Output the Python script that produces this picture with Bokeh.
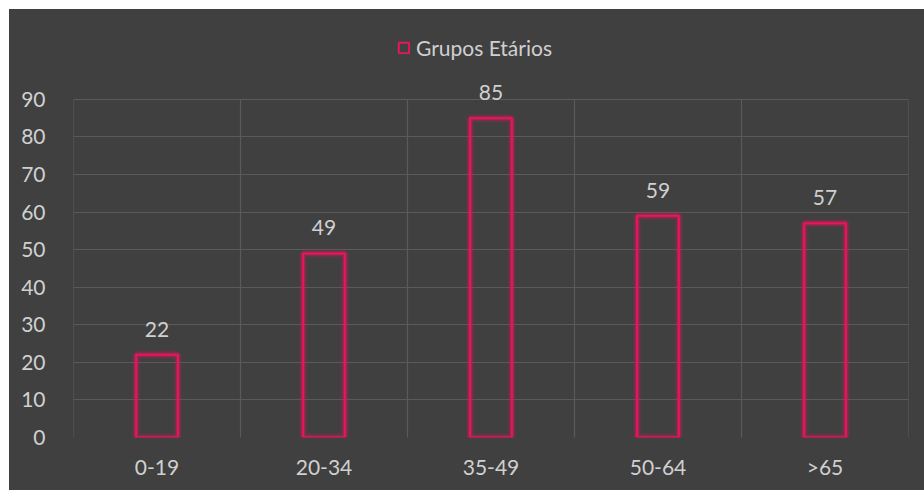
from bokeh.plotting import figure
from bokeh.models import ColumnDataSource, FixedTicker, Legend, LegendItem
from bokeh.core.properties import value
from bokeh.embed import file_html
from bokeh.resources import INLINE

# Age groups and counts
categories = ["0-19", "20-34", "35-49", "50-64", ">65"]
counts = [22, 49, 85, 59, 57]
y_ticks = [0, 10, 20, 30, 40, 50, 60, 70, 80, 90]
series_name = "Grupos Etários"

BG = "#404040"
GRID = "#5a5a5a"
TEXT = "#d0d0d0"
BAR = "#e8145f"
FONT = "Lato"
FONT_SIZE = "21px"

y_max = y_ticks[-1]
centers = [i + 0.5 for i in range(len(categories))]
half = 0.125
src = ColumnDataSource(dict(
    x=centers,
    left=[c - half for c in centers],
    right=[c + half for c in centers],
    top=counts,
    bottom=[0] * len(counts),
    label=[str(v) for v in counts],
))

# the frame extends above the value axis to leave room for the legend;
# one solid background behind the whole canvas avoids a seam at the frame edge
p = figure(
    width=915, height=481,
    x_range=(0, len(categories)), y_range=(0, 111),
    output_backend="svg", toolbar_location=None,
    min_border_left=64, min_border_right=16,
    min_border_top=11, min_border_bottom=53,
    background_fill_alpha=0, border_fill_alpha=0,
    outline_line_color=None,
)
p.styles = {"background-color": BG}
p.margin = (9, 0, 0, 9)

# horizontal grid at every 10
p.ygrid.ticker = FixedTicker(ticks=y_ticks)
p.ygrid.grid_line_color = GRID
p.ygrid.grid_line_width = 1.2
p.xgrid.grid_line_color = None

# vertical separators between categories, up to the top of the value axis
bounds = list(range(len(categories) + 1))
p.segment(x0=bounds, x1=bounds, y0=[0] * len(bounds), y1=[y_max] * len(bounds),
          line_color=GRID, line_width=1.2)

# axes
p.yaxis.ticker = FixedTicker(ticks=y_ticks)
p.xaxis.ticker = FixedTicker(ticks=centers)
p.xaxis.major_label_overrides = {c: cat for c, cat in zip(centers, categories)}
for ax in (p.xaxis, p.yaxis):
    ax.axis_line_color = None
    ax.major_tick_line_color = None
    ax.minor_tick_line_color = None
    ax.major_label_text_color = TEXT
    ax.major_label_text_font = FONT
    ax.major_label_text_font_size = FONT_SIZE
p.yaxis.major_label_standoff = 22
p.xaxis.major_label_standoff = 10

# soft glow behind the outlined bars
for w, a in ((9, 0.10), (6, 0.18), (4, 0.3)):
    p.quad(left="left", right="right", top="top", bottom="bottom", source=src,
           fill_color=None, line_color=BAR, line_alpha=a, line_width=w)
bars = p.quad(left="left", right="right", top="top", bottom="bottom", source=src,
              fill_color=None, line_color=BAR, line_width=2)

# value labels
p.text(x="x", y="top", text="label", source=src,
       text_align="center", text_baseline="bottom", y_offset=-18,
       text_color=TEXT, text_font=value(FONT), text_font_size=FONT_SIZE)

legend = Legend(
    items=[LegendItem(label=series_name, renderers=[bars])],
    location=(324, 377),
    orientation="horizontal",
    background_fill_alpha=0, border_line_color=None,
    label_text_color=TEXT, label_text_font=FONT, label_text_font_size=FONT_SIZE,
    glyph_width=13, glyph_height=13, label_standoff=6,
    padding=0, margin=0,
)
p.add_layout(legend, "center")

open("out.html", "w").write(file_html(p, INLINE))
